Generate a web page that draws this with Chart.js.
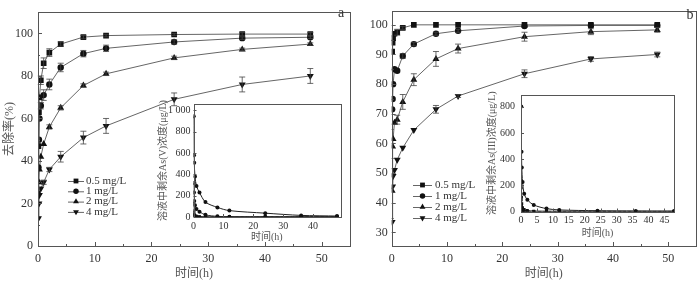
<!DOCTYPE html>
<html>
<head>
<meta charset="utf-8">
<script src="https://cdn.jsdelivr.net/npm/chart.js@4.4.0/dist/chart.umd.min.js"></script>
<style>
body { margin: 0; background: #fff; }
#wrap { position: relative; width: 700px; height: 282px; overflow: hidden; background: #fff; }
canvas { position: absolute; }
</style>
</head>
<body>
<div id="wrap">
  <canvas id="mainA" width="355" height="282" style="left:0;top:0"></canvas>
  <canvas id="mainB" width="345" height="282" style="left:355px;top:0"></canvas>
  <canvas id="insetA" width="195" height="150" style="left:150px;top:95px"></canvas>
  <canvas id="insetB" width="206" height="162" style="left:474px;top:83px"></canvas>
</div>
<script>
// sampling times (h)
var times = [0.083, 0.167, 0.25, 0.5, 1, 2, 4, 8, 12, 24, 36, 48];
var labels = ['0.5 mg/L', '1 mg/L', '2 mg/L', '4 mg/L'];

// panel a: As(V) removal (%)
var a05 = [47, 63, 70, 78, 86, 91, 95, 98.3, 99, 99.5, 99.7, 99.7];
var a1 = [37, 50, 60, 66, 71, 76, 84, 90.5, 93, 96, 97.8, 98.2];
var a2 = [25, 30, 36, 42, 48, 56, 65, 75.5, 81, 88.5, 92.5, 95];
var a4 = [13, 20, 24, 27, 30, 36, 42, 51, 56.5, 69, 76, 80];
var a05err = [0, 0, 0, 2, 2.5, 1.8, 1, 0.8, 0.6, 0.5, 0.8, 0.8];
var a1err = [0, 0, 0, 1.5, 2.5, 2.5, 2, 1.5, 1.5, 1, 0.6, 0.6];
var a2err = [0, 0, 0, 0, 0, 1, 1, 0.8, 0.8, 0.8, 0.6, 0.6];
var a4err = [0, 0, 0, 0, 1, 1, 2.5, 3, 3.5, 3, 3.5, 3.5];

// panel b: As(III) removal (%)
var b05 = [91, 94, 95.5, 97, 97.5, 99, 100, 100, 100, 100, 100, 100];
var b1 = [71.5, 75, 80, 85, 84.5, 89.5, 93.5, 97, 98, 99.6, 99.8, 99.8];
var b2 = [44, 59, 61.5, 67, 68, 74, 81.5, 88.5, 92, 96, 97.7, 98.3];
var b4 = [33.5, 45.5, 49, 51, 54.5, 58.5, 64.5, 71.5, 76, 83.5, 88.5, 90];
var b05err = [0, 0, 0, 0, 1, 0.5, 0, 0, 0, 0, 0, 0];
var b1err = [0, 0, 0, 0, 0, 0.8, 0.6, 0.5, 0.5, 0, 0, 0];
var b2err = [0, 0, 0, 0, 1.5, 2.5, 2, 2.5, 1.5, 1.5, 1, 0.8];
var b4err = [0, 0, 0, 0, 0, 0, 0, 1.3, 0.5, 1.3, 0.8, 0.8];

// insets: residual concentration (ug/L)
var ia1 = [944, 580, 510, 380, 290, 230, 140, 90, 60, 36, 15, 9];
var ia2 = [320, 230, 150, 110, 75, 50, 20, 6, 3, 2, 2, 2];
var ia3 = [130, 60, 30, 15, 8, 4, 2, 1, 1, 1, 1, 1];
var ia4 = [40, 15, 8, 4, 2, 1, 1, 0.5, 0.5, 0.5, 0.5, 0.5];
var ib1 = [803, 456, 337, 225, 135, 90, 50, 22, 12, 6, 4, 3];
var ib2 = [180, 110, 60, 30, 15, 8, 3, 2, 1, 1, 1, 1];
var ib3 = [90, 40, 15, 5, 2, 1, 0.5, 0.5, 0.5, 0.5, 0.5, 0.5];
var ib4 = [30, 10, 3, 1, 0.5, 0.5, 0.5, 0.5, 0.5, 0.5, 0.5, 0.5];

var serif = "'Liberation Serif', 'Noto Sans CJK SC', serif";
Chart.defaults.font.family = serif;
Chart.defaults.font.weight = 'normal';
Chart.defaults.color = '#333';
Chart.defaults.animation = false;

function pts(vals) {
  return times.map(function (t, i) { return { x: t, y: vals[i] }; });
}

function marker(ctx, style, r, x, y, rot) {
  ctx.beginPath();
  if (style === 'rect') {
    var s = r * Math.SQRT1_2;
    ctx.rect(x - s, y - s, 2 * s, 2 * s);
  } else if (style === 'circle') {
    ctx.arc(x, y, r, 0, Math.PI * 2);
  } else {
    var d = rot ? -1 : 1;
    ctx.moveTo(x, y - d * r);
    ctx.lineTo(x + r * 0.866, y + d * r * 0.5);
    ctx.lineTo(x - r * 0.866, y + d * r * 0.5);
    ctx.closePath();
  }
  ctx.fill();
}

// white fill behind the plot area only, so the inset box hides nothing outside it
var whiteBg = {
  id: 'whiteBg',
  beforeDatasetsDraw: function (chart) {
    var ctx = chart.ctx, a = chart.chartArea;
    ctx.save();
    ctx.fillStyle = '#fff';
    ctx.fillRect(a.left, a.top, a.right - a.left, a.bottom - a.top);
    ctx.restore();
  }
};

var errorBars = {
  id: 'errorBars',
  afterDatasetsDraw: function (chart) {
    var ctx = chart.ctx, x = chart.scales.x, y = chart.scales.y;
    ctx.save();
    ctx.strokeStyle = '#444';
    ctx.lineWidth = 0.8;
    chart.data.datasets.forEach(function (ds) {
      if (!ds.errors) return;
      ds.data.forEach(function (p, i) {
        var e = ds.errors[i];
        if (!e) return;
        var px = x.getPixelForValue(p.x);
        var y1 = y.getPixelForValue(p.y + e), y2 = y.getPixelForValue(p.y - e);
        ctx.beginPath();
        ctx.moveTo(px, y1); ctx.lineTo(px, y2);
        ctx.moveTo(px - 3, y1); ctx.lineTo(px + 3, y1);
        ctx.moveTo(px - 3, y2); ctx.lineTo(px + 3, y2);
        ctx.stroke();
      });
    });
    ctx.restore();
  }
};

var frame = {
  id: 'frame',
  afterDraw: function (chart, args, o) {
    var ctx = chart.ctx, a = chart.chartArea, x = chart.scales.x, y = chart.scales.y;
    ctx.save();
    ctx.strokeStyle = '#555';
    ctx.lineWidth = 1;
    ctx.strokeRect(Math.round(a.left) + 0.5, Math.round(a.top) + 0.5,
      Math.round(a.right - a.left), Math.round(a.bottom - a.top));
    var L = o.tick || 4;
    ctx.beginPath();
    var xs = x.ticks.map(function (t) { return t.value; });
    var ys = y.ticks.map(function (t) { return t.value; });
    xs.forEach(function (v) {
      var px = Math.round(x.getPixelForValue(v)) + 0.5;
      ctx.moveTo(px, a.bottom); ctx.lineTo(px, a.bottom - L);
      var m = v + o.xStep / 2;
      if (o.minor && m < x.max) {
        var pm = Math.round(x.getPixelForValue(m)) + 0.5;
        ctx.moveTo(pm, a.bottom); ctx.lineTo(pm, a.bottom - L / 2);
      }
    });
    ys.forEach(function (v) {
      var py = Math.round(y.getPixelForValue(v)) + 0.5;
      ctx.moveTo(a.left, py); ctx.lineTo(a.left + L, py);
      var m = v + o.yStep / 2;
      if (o.minor && m < y.max) {
        var pm = Math.round(y.getPixelForValue(m)) + 0.5;
        ctx.moveTo(a.left, pm); ctx.lineTo(a.left + L / 2, pm);
      }
    });
    ctx.stroke();
    if (o.letter) {
      ctx.fillStyle = '#333';
      ctx.font = '14px ' + serif;
      ctx.textAlign = 'center';
      ctx.textBaseline = 'middle';
      ctx.fillText(o.letter, o.lx, o.ly);
    }
    ctx.restore();
  }
};

var mlegend = {
  id: 'mlegend',
  afterDraw: function (chart, args, o) {
    if (!o || !o.show) return;
    var ctx = chart.ctx;
    ctx.save();
    ctx.font = '11px ' + serif;
    ctx.textBaseline = 'middle';
    ctx.textAlign = 'left';
    chart.data.datasets.forEach(function (ds, i) {
      var yy = o.y + i * o.dy;
      ctx.strokeStyle = '#666';
      ctx.lineWidth = 1;
      ctx.beginPath();
      ctx.moveTo(o.x, yy + 0.5); ctx.lineTo(o.x + o.len, yy + 0.5);
      ctx.stroke();
      ctx.fillStyle = '#111';
      marker(ctx, ds.pointStyle, ds.pointRadius * 0.85, o.x + o.len / 2, yy, ds.pointRotation);
      ctx.fillStyle = '#333';
      ctx.fillText(ds.label, o.tx, yy);
    });
    ctx.restore();
  }
};

function mainSeries(label, vals, errs, style, rot, r) {
  return {
    label: label, data: pts(vals), errors: errs,
    borderColor: '#666', borderWidth: 1,
    pointStyle: style, pointRotation: rot, pointRadius: r,
    pointBackgroundColor: '#111', pointBorderColor: '#111', pointBorderWidth: 0,
    tension: 0
  };
}

function insetSeries(vals, style, dash) {
  return {
    label: '', data: pts(vals),
    borderColor: '#222', borderWidth: 1, borderDash: dash || [],
    pointStyle: style, pointRadius: 2, pointRotation: 0,
    pointBackgroundColor: '#111', pointBorderColor: '#111', pointBorderWidth: 0,
    tension: 0.3
  };
}

function axisX(max, step, fontSize, pad, title, titlePadBottom, height) {
  return {
    type: 'linear', min: 0, max: max,
    grid: { display: false, drawTicks: false },
    border: { display: false },
    ticks: { stepSize: step, includeBounds: false, padding: pad, font: { size: fontSize }, color: '#333', maxRotation: 0 },
    title: { display: true, text: title, font: { size: fontSize, weight: 'normal' }, color: '#555', padding: { top: 0, bottom: titlePadBottom } },
    afterFit: function (s) { s.height = height; }
  };
}

function axisY(min, max, step, fontSize, pad, title, titlePadTop, width, cb) {
  var ax = {
    type: 'linear', min: min, max: max,
    grid: { display: false, drawTicks: false },
    border: { display: false },
    ticks: { stepSize: step, includeBounds: false, padding: pad, font: { size: fontSize }, color: '#333' },
    title: { display: !!title, text: title, font: { size: fontSize, weight: 'normal' }, color: '#555', padding: { top: titlePadTop, bottom: 0 } },
    afterFit: function (s) { s.width = width; }
  };
  if (cb) ax.ticks.callback = cb;
  return ax;
}

// panel a
new Chart(document.getElementById('mainA'), {
  type: 'line',
  data: {
    datasets: [
      mainSeries(labels[0], a05, a05err, 'rect', 0, 4),
      mainSeries(labels[1], a1, a1err, 'circle', 0, 3.2),
      mainSeries(labels[2], a2, a2err, 'triangle', 0, 4),
      mainSeries(labels[3], a4, a4err, 'triangle', 180, 4)
    ]
  },
  options: {
    responsive: false, devicePixelRatio: 1,
    layout: { padding: { top: 2, right: 5, left: 0, bottom: 0 } },
    scales: {
      x: axisX(55, 10, 12, 6, '时间(h)', 1, 36),
      y: axisY(0, 110, 20, 12, 5, '去除率(%)', 3, 38)
    },
    plugins: {
      legend: { display: false }, tooltip: { enabled: false },
      frame: { tick: 4, minor: true, xStep: 10, yStep: 20, letter: 'a', lx: 341, ly: 13 },
      mlegend: { show: true, x: 68, y: 181, dy: 10.3, len: 16, tx: 86 }
    }
  },
  plugins: [errorBars, frame, mlegend]
});

// panel b
new Chart(document.getElementById('mainB'), {
  type: 'line',
  data: {
    datasets: [
      mainSeries(labels[0], b05, b05err, 'rect', 0, 4),
      mainSeries(labels[1], b1, b1err, 'circle', 0, 3.2),
      mainSeries(labels[2], b2, b2err, 'triangle', 0, 4),
      mainSeries(labels[3], b4, b4err, 'triangle', 180, 4)
    ]
  },
  options: {
    responsive: false, devicePixelRatio: 1,
    layout: { padding: { top: 2, right: 3, left: 0, bottom: 0 } },
    scales: {
      x: axisX(55, 10, 12, 6, '时间(h)', 1, 36),
      y: axisY(25.4, 104.6, 10, 12, 4, '', 0, 36.7)
    },
    plugins: {
      legend: { display: false }, tooltip: { enabled: false },
      frame: { tick: 4, minor: true, xStep: 10, yStep: 10, letter: 'b', lx: 335, ly: 15 },
      mlegend: { show: true, x: 58, y: 185, dy: 11, len: 19, tx: 80 }
    }
  },
  plugins: [errorBars, frame, mlegend]
});

function thousands(v) {
  return v >= 1000 ? '1 ' + String(v).slice(1) : String(v);
}

// inset a
new Chart(document.getElementById('insetA'), {
  type: 'line',
  data: {
    datasets: [
      insetSeries(ia1, 'circle'),
      insetSeries(ia2, 'circle'),
      insetSeries(ia3, 'rect'),
      insetSeries(ia4, 'rect', [3, 2])
    ]
  },
  options: {
    responsive: false, devicePixelRatio: 1,
    layout: { padding: { top: 4, right: 5, left: 0, bottom: 0 } },
    scales: {
      x: axisX(49, 10, 10, 3, '时间(h)', 2, 28),
      y: axisY(0, 1060, 200, 10, 3, '溶液中剩余As(V)浓度(μg/L)', 7, 43.5, thousands)
    },
    plugins: {
      legend: { display: false }, tooltip: { enabled: false },
      frame: { tick: 3, minor: false, xStep: 10, yStep: 200 },
      mlegend: { show: false }
    }
  },
  plugins: [whiteBg, frame]
});

// inset b
new Chart(document.getElementById('insetB'), {
  type: 'line',
  data: {
    datasets: [
      insetSeries(ib1, 'circle'),
      insetSeries(ib2, 'rect'),
      insetSeries(ib3, 'rect'),
      insetSeries(ib4, 'rect', [3, 2])
    ]
  },
  options: {
    responsive: false, devicePixelRatio: 1,
    layout: { padding: { top: 4, right: 6, left: 0, bottom: 0 } },
    scales: {
      x: axisX(48, 5, 10, 3, '时间(h)', 6, 33.5),
      y: axisY(0, 890, 200, 10, 6, '溶液中剩余As(III)浓度(μg/L)', 12, 47)
    },
    plugins: {
      legend: { display: false }, tooltip: { enabled: false },
      frame: { tick: 3, minor: false, xStep: 5, yStep: 200 },
      mlegend: { show: false }
    }
  },
  plugins: [whiteBg, frame]
});
</script>
</body>
</html>
